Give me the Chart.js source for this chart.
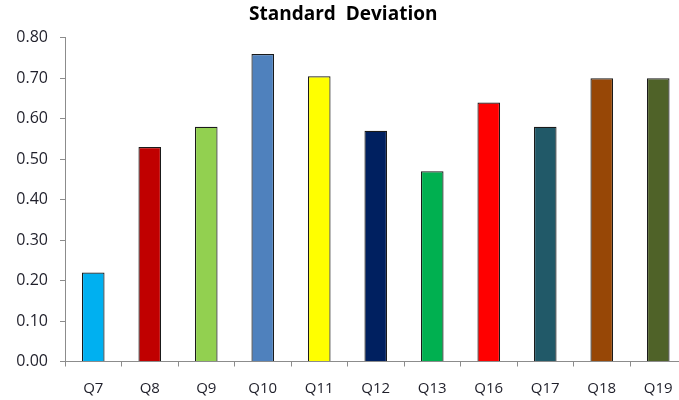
<!DOCTYPE html>
<html>
<head>
<meta charset="utf-8">
<script src="https://cdn.jsdelivr.net/npm/chart.js@4"></script>
<style>
    html, body { margin: 0; padding: 0; background: #fff; overflow: hidden; }
    #wrap { width: 690px; height: 400px; }
</style>
</head>
<body>
<div id="wrap"><canvas id="chart"></canvas></div>
<script>
const labels = ["Q7", "Q8", "Q9", "Q10", "Q11", "Q12", "Q13", "Q16", "Q17", "Q18", "Q19"];
const stdDev = [0.22, 0.53, 0.58, 0.76, 0.705, 0.57, 0.47, 0.64, 0.58, 0.70, 0.70];
const barColors = [
    "#00B0F0", "#C00000", "#92D050", "#4F81BD", "#FFFF00", "#002060",
    "#00B050", "#FF0000", "#215968", "#974706", "#4F6228"
];
const yTicks = [0, 0.1, 0.2, 0.3, 0.4, 0.5, 0.6, 0.7, 0.8];

const font = '"Open Sans", sans-serif';
const axisGrey = "#8c8c8c";

new Chart(document.getElementById("chart"), {
    type: "bar",
    data: {
        labels,
        datasets: [{
            label: "Standard Deviation",
            data: stdDev,
            backgroundColor: barColors,
            borderColor: "#1a1a1a",
            borderWidth: 1.2,
            categoryPercentage: 1,
            barPercentage: 0.4,
        }],
    },
    options: {
        responsive: true,
        maintainAspectRatio: false,
        animation: false,
        layout: { padding: { left: 0, right: 3.5, top: 0, bottom: 0 } },
        plugins: {
            legend: { display: false },
            tooltip: { enabled: false },
            title: {
                display: true,
                text: "Standard  Deviation",
                color: "#000",
                font: { family: font, size: 19, weight: "bold" },
                padding: { top: 3, bottom: 12 },
            },
        },
        scales: {
            y: {
                min: 0,
                max: 0.8,
                afterFit: (scale) => { scale.width = 65; },
                afterBuildTicks: (scale) => {
                    scale.ticks = yTicks.map((v) => ({ value: v }));
                },
                border: { display: true, color: axisGrey, width: 1 },
                grid: {
                    drawOnChartArea: false,
                    drawTicks: true,
                    tickLength: 5,
                    color: axisGrey,
                },
                ticks: {
                    padding: 12,
                    color: "#1f1f2a",
                    font: { family: font, size: 16 },
                    callback: (v) => Number(v).toFixed(2),
                },
            },
            x: {
                afterFit: (scale) => { scale.height = 38.5; },
                border: { display: true, color: axisGrey, width: 1 },
                grid: {
                    offset: true,
                    drawOnChartArea: false,
                    drawTicks: true,
                    tickLength: 5,
                    color: axisGrey,
                },
                ticks: {
                    padding: 13,
                    color: "#1f1f2a",
                    font: { family: font, size: 15 },
                },
            },
        },
    },
});
</script>
</body>
</html>
